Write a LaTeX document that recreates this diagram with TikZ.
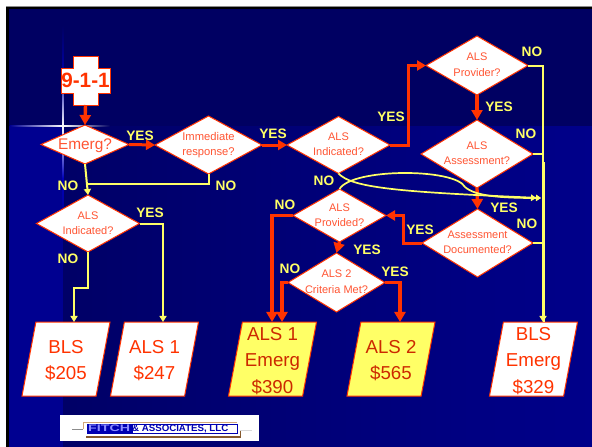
\documentclass[tikz,border=0pt]{standalone}
\usepackage{fontspec}
\setmainfont{Liberation Sans}
\usetikzlibrary{shapes.geometric,arrows.meta,calc}
\definecolor{redo}{HTML}{FF3300}
\definecolor{dtext}{HTML}{FF5533}
\definecolor{yel}{HTML}{FFFF66}
\definecolor{navy}{HTML}{000062}
\definecolor{blueb}{HTML}{000090}
\definecolor{bluem}{HTML}{00008A}
\newcommand\celltext[4][0pt]{\fontsize{#2}{#3}\selectfont\makebox[0pt]{\raisebox{\dimexpr-.25em-#1\relax}{\begin{tabular}{@{}c@{}}#4\end{tabular}}}}
\newcommand\pricetext[2]{\hspace*{1pt}\celltext[2pt]{18.7}{#1}{#2}\hspace*{1pt}}
\tikzset{
 x=1pt,y=-1pt,
 zero/.style={inner sep=0pt,outer sep=0pt,text height=0pt,text depth=0pt},
 decision/.style={zero,shape=diamond,draw=redo,fill=white,line width=1pt,text=dtext,line join=miter},
 price/.style={inner sep=0pt,outer sep=0pt,text height=1pt,text depth=1pt,shape=trapezium,trapezium left angle=77,trapezium right angle=103,trapezium stretches=true,minimum width=88pt,minimum height=74pt,draw=redo,line width=1pt,text=redo},
 pricew/.style={price,fill=white},
 pricey/.style={price,fill=yel,text=redo!80!black},
 tag/.style={text=yel,font=\bfseries\fontsize{13.7}{14}\selectfont,inner sep=0pt},
 redline/.style={draw=redo,line width=3.4pt,line join=miter,-{Triangle[length=10pt,width=11pt]}},
 redlineb/.style={draw=redo,line width=3pt,line join=miter,-{Triangle[length=9pt,width=10pt]}},
 yline/.style={draw=yel,line width=2pt,line join=miter,-{Triangle[length=6pt,width=7pt]}},
 ylinep/.style={draw=yel,line width=2pt,line join=miter},
 ycurve/.style={draw=yel,line width=1.7pt,-{Triangle[length=5pt,width=6pt]Triangle[length=5pt,width=6pt]}},
}
\begin{document}
\begin{tikzpicture}
\useasboundingbox (0,0) rectangle (592,447);
% page and background
\fill[white] (0,0) rectangle (592,447);
\fill[black!45] (6,6) rectangle (592,7);
\fill[black] (6,7) rectangle (592,447);
\fill[navy] (9,9) rectangle (592,126);
\fill[blueb] (9,126) rectangle (63,447);
\shade[shading angle=65,left color=navy!90!blueb,right color=bluem] (63,126) rectangle (592,447);
% flare
\shade[left color=blueb,right color=white] (10,125.5) rectangle (63,126.7);
\shade[left color=white,right color=navy] (63,125.5) rectangle (110,126.7);
\shade[top color=navy,bottom color=white,middle color=blue!45!navy] (62.3,25) rectangle (63.7,126);
\shade[top color=white,bottom color=blueb,middle color=blue!55!navy] (62.3,126) rectangle (63.7,230);
% cross
\path[fill=white,draw=redo,line width=1pt] (73,56) -- (98,56) -- (98,68) -- (110,68) -- (110,93) -- (98,93) -- (98,105) -- (73,105) -- (73,93) -- (61,93) -- (61,68) -- (73,68) -- cycle;
\node[minimum width=49pt,minimum height=49pt,inner sep=0pt,outer sep=0pt,text=redo,font=\bfseries\fontsize{20.7}{22}\selectfont] (call) at (85.5,80.5) {9-1-1};
% decisions
\node[decision,minimum width=88pt,minimum height=39pt] (emerg) at (85,144.5) {\celltext[1.5pt]{15.4}{18}{Emerg?}};
\node[decision,minimum width=107pt,minimum height=58pt] (imm) at (208.5,145) {\celltext{11.2}{15}{Immediate\\response?}};
\node[decision,minimum width=103pt,minimum height=57pt] (indl) at (88,223.5) {\celltext{11}{15}{ALS\\Indicated?}};
\node[decision,minimum width=103pt,minimum height=57pt] (indm) at (338.5,145) {\celltext{11}{15}{ALS\\Indicated?}};
\node[decision,minimum width=102pt,minimum height=59pt] (prov) at (477,65.5) {\celltext{11}{16}{ALS\\Provider?}};
\node[decision,minimum width=112pt,minimum height=68pt] (assess) at (477,154) {\celltext{11}{15}{ALS\\Assessment?}};
\node[decision,minimum width=111pt,minimum height=68pt] (doc) at (477.5,243) {\celltext{11}{15}{Assessment\\Documented?}};
\node[decision,minimum width=93pt,minimum height=53pt] (provd) at (339.5,215.5) {\celltext{11}{15}{ALS\\Provided?}};
\node[decision,minimum width=97pt,minimum height=59pt] (crit) at (336.5,282.5) {\celltext{11}{15.5}{ALS 2\\Criteria Met?}};
% prices
\node[pricew] (bls) at (66,359) {\pricetext{26}{BLS\\\$205}};
\node[pricew] (alsa) at (154.5,359) {\pricetext{26}{ALS 1\\\$247}};
\node[pricey] (alse) at (272.5,359) {\pricetext{26.5}{ALS 1\\Emerg\\\$390}};
\node[pricey] (alsb) at (391,359) {\pricetext{26}{ALS 2\\\$565}};
\node[pricew] (blse) at (533.5,359) {\pricetext{26.5}{BLS\\Emerg\\\$329}};
% junctions
\coordinate (merge) at (87.4,184);
\coordinate (rail) at (543,154);
\coordinate (cend) at (541,198);
% red connectors
\draw[redline] (call.south) -- (emerg.north);
\draw[redlineb] (emerg.east) -- (imm.west);
\draw[redlineb] (imm.east) -- (indm.west);
\draw[redlineb] (indm.east) -- (408,145) -- (408,65.5) -- (prov.west);
\draw[redline] (prov.south) -- (assess.north);
\draw[redline] (assess.south) -- (doc.north);
\draw[redlineb] (doc.west) -- (403.5,243) -- (403.5,215.5) -- (provd.east);
\draw[redline] (provd.south) -- (crit.north);
\draw[redline] (provd.west) -| ([xshift=-0.5pt]alse.north);
\draw[redline] (crit.west) -| ([xshift=9.5pt]alse.north);
\draw[redline] (crit.east) -| ([xshift=9pt]alsb.north);
% yellow connectors
\draw[yline] (emerg.south) -- (indl.north);
\draw[ylinep] (imm.south) |- (merge);
\draw[yline] (indl.east) -| ([xshift=8.5pt]alsa.north);
\draw[yline] (indl.south) -- (88,288) -- (74,288) -- ([xshift=8pt]bls.north);
\draw[yline] (prov.east) -| ([xshift=9.5pt]blse.north);
\draw[ylinep] (assess.east) -- (rail);
\draw[ylinep] (doc.east) -- (543,243);
\fill[yel] (543,162) rectangle (545,322);
\draw[ycurve] (indm.south) .. controls (352,188) and (400,192) .. (cend);
\draw[ycurve] (provd.north) .. controls (352,168) and (455,168) .. (465,187) .. controls (475,196) and (500,198) .. (cend);
% labels
\node[tag] (t1) at (140,136) {YES};
\node[tag] (t2) at (273,134) {YES};
\node[tag] (t3) at (68,186) {NO};
\node[tag] (t4) at (226,186) {NO};
\node[tag] (t5) at (285,205) {NO};
\node[tag] (t6) at (150,213) {YES};
\node[tag] (t7) at (68,259) {NO};
\node[tag] (t8) at (391,117) {YES};
\node[tag] (t9) at (532,52) {NO};
\node[tag] (t10) at (499,107) {YES};
\node[tag] (t11) at (526,134) {NO};
\node[tag] (t12) at (324,181) {NO};
\node[tag] (t13) at (504,208) {YES};
\node[tag] (t14) at (527,224) {NO};
\node[tag] (t15) at (420,230) {YES};
\node[tag] (t16) at (367,250) {YES};
\node[tag] (t17) at (290,269) {NO};
\node[tag] (t18) at (395,272) {YES};
% logo
\fill[white] (60,415) rectangle (259,441);
\fill[black!45!white] (72,428.5) rectangle (83,429.5);
\fill[black!30!brown] (86,436) rectangle (240.5,437.5);
\fill[brown!70!white] (83,421.5) rectangle (237,422.5);
\fill[brown!70!white] (83,421.5) rectangle (84,429);
\fill[black!30!brown] (239.5,431) rectangle (240.5,437);
\fill[black!15] (240,429.5) rectangle (252,430.5);
\fill[blue!70!black] (87,424) rectangle (132,434);
\draw[blue!70!black,line width=.8pt] (132,424.4) rectangle (237,433.6);
\node[anchor=west,inner sep=0pt,text=blue!70!black,font=\bfseries\fontsize{9.5}{10}\selectfont] (logo) at (88,429) {\textcolor{blue!45!white}{\scalebox{1.5}[1]{FITCH}}\hspace{2pt}\scalebox{1.02}[1]{\& ASSOCIATES, LLC}};
\end{tikzpicture}
\end{document}
